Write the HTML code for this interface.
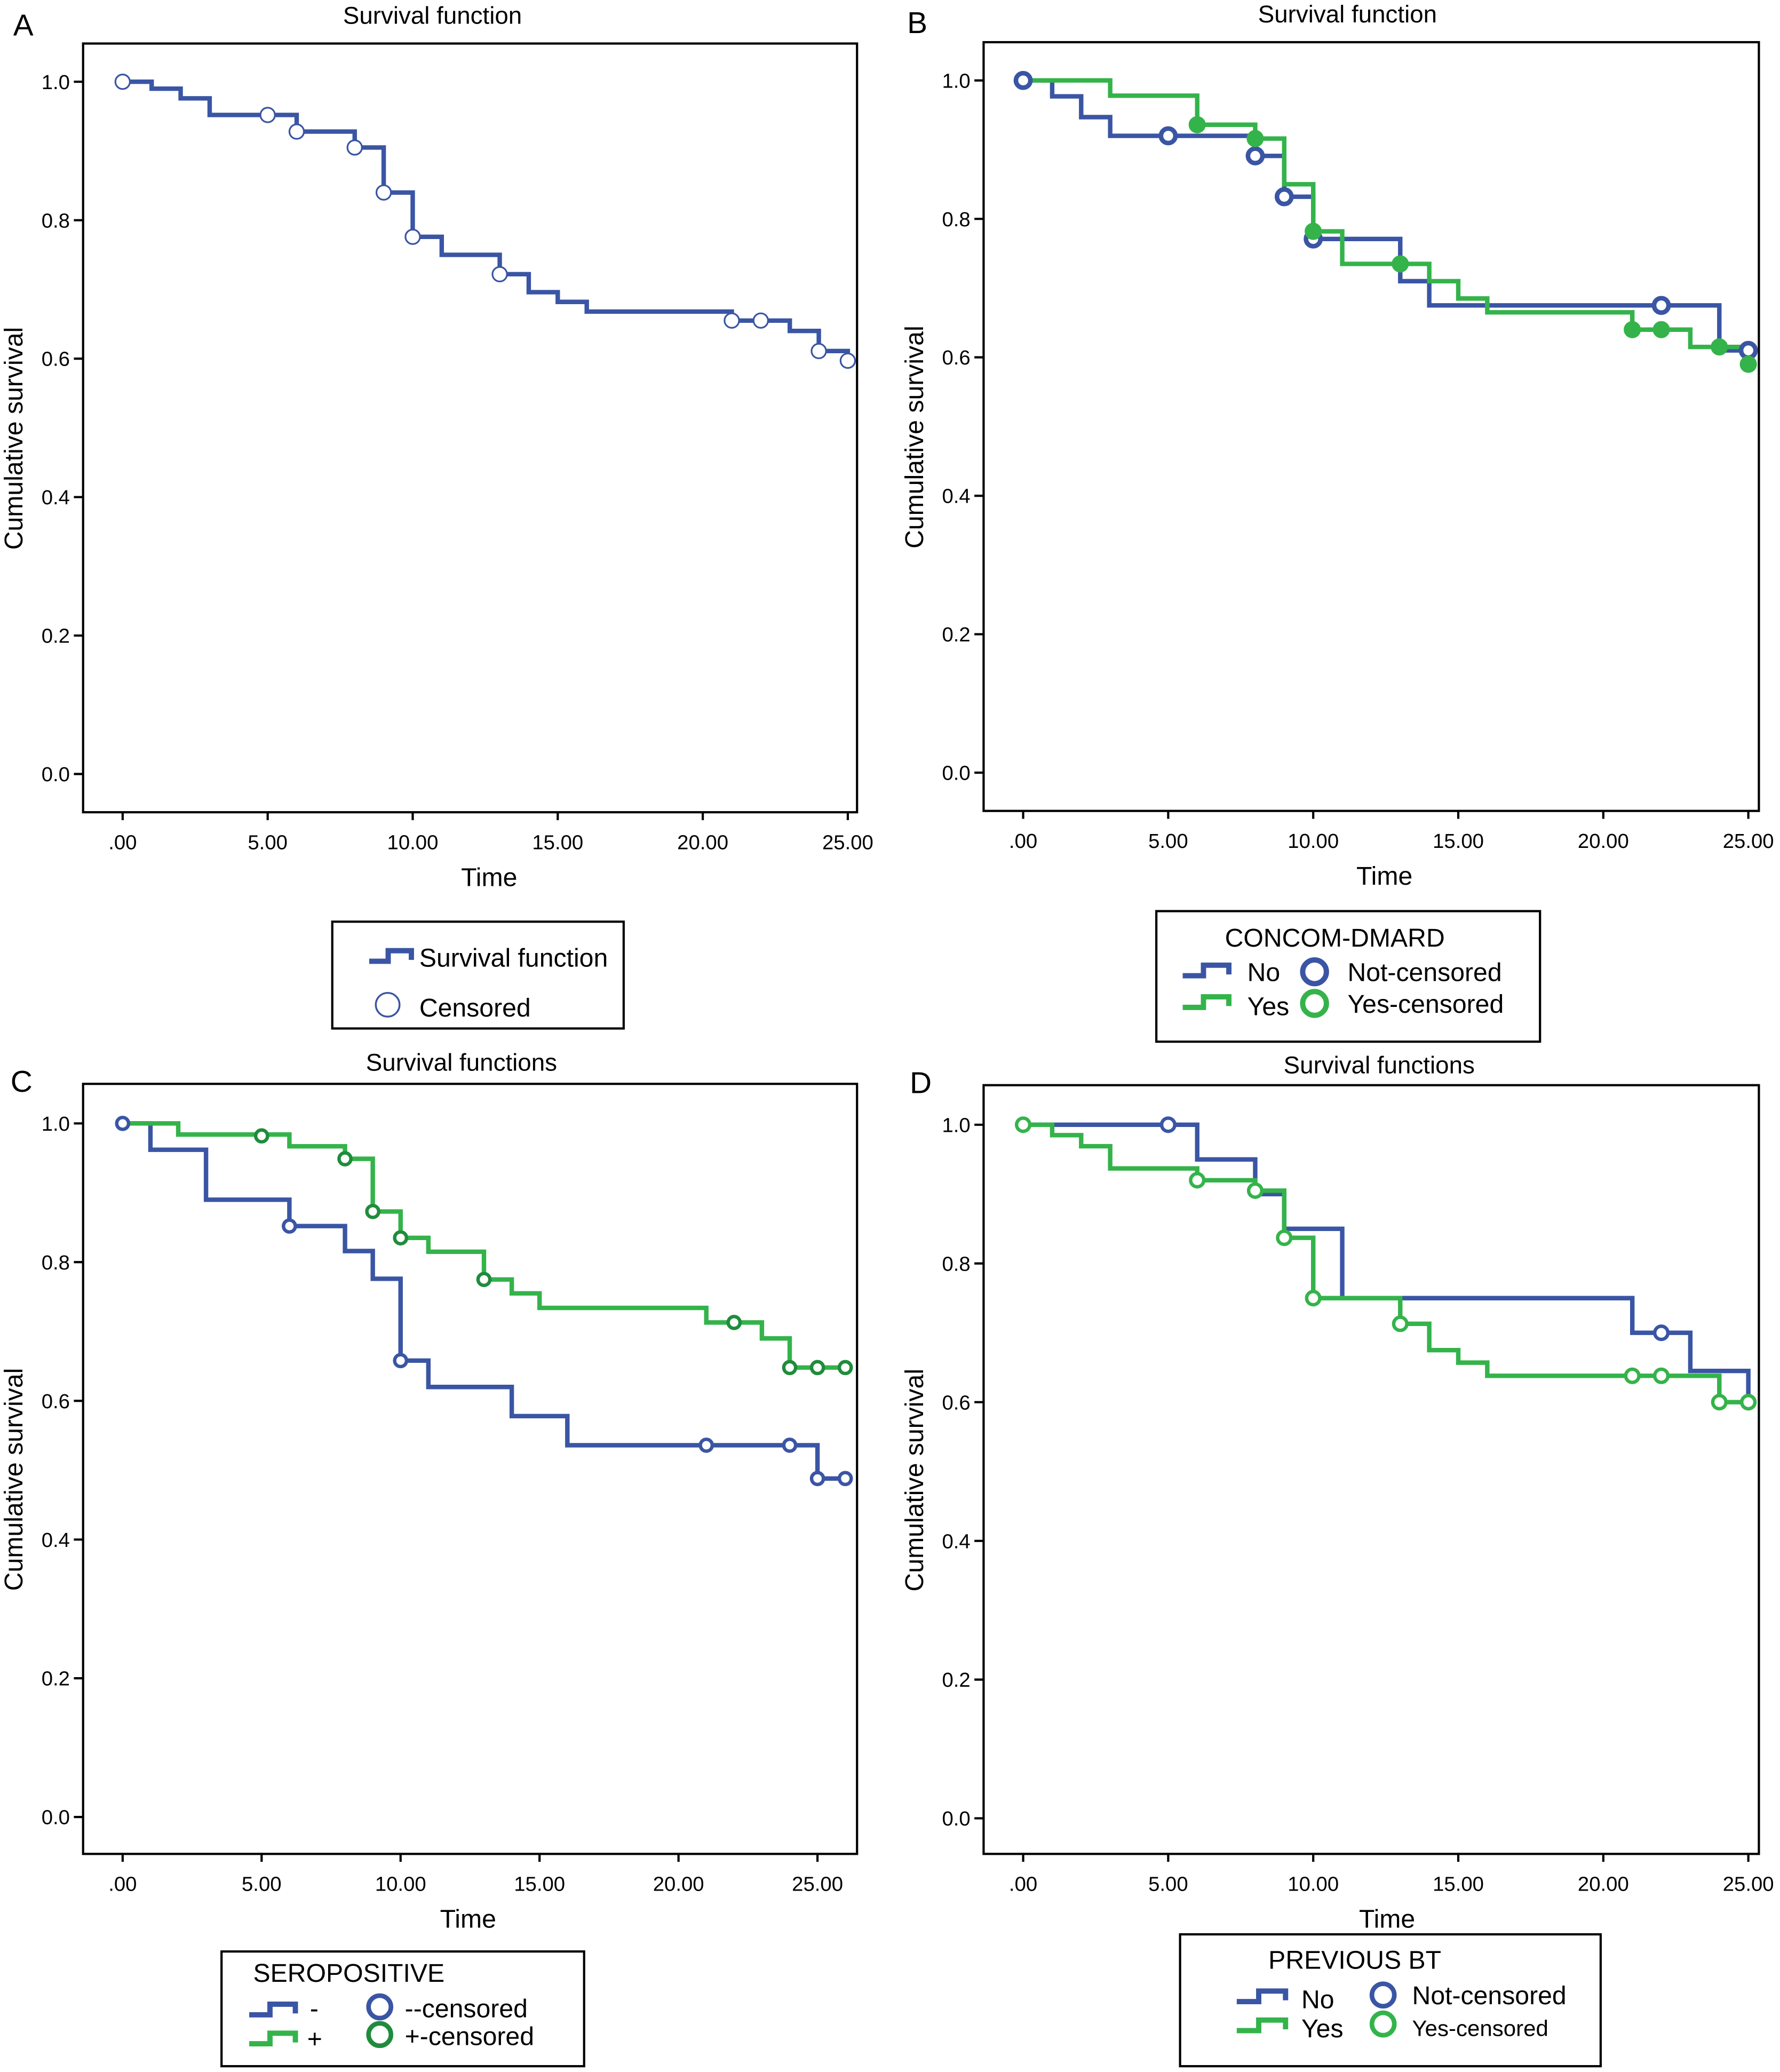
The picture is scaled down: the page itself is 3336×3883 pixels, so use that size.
<!DOCTYPE html>
<html><head><meta charset="utf-8"><style>
html,body{margin:0;padding:0;background:#fff}
svg{display:block}
text{font-family:"Liberation Sans",sans-serif;fill:#000}
</style></head><body>
<svg id="fig" xmlns="http://www.w3.org/2000/svg" width="3336" height="3883" viewBox="0 0 1350 1571.4">
<rect width="1350" height="1571.4" fill="#fff"/>
<g id="root"></g>
</svg>
<script>
// ---- Panel A data ----
const aTimes = [0,1,2,3,6,8,9,10,11,13,14,15,16,21,23,24,25];
const aSurv  = [1.0,0.99,0.976,0.952,0.928,0.905,0.84,0.776,0.75,0.722,0.696,0.682,0.668,0.655,0.64,0.611,0.597];
const aCensT = [0,5,6,8,9,10,13,21,22,24,25];
const aCensS = [1.0,0.952,0.928,0.905,0.84,0.776,0.722,0.655,0.655,0.611,0.597];
// ---- Panel B data ----
const bNoTimes = [0,1,2,3,8,9,10,13,14,24];
const bNoSurv  = [1.0,0.977,0.947,0.92,0.891,0.832,0.771,0.71,0.675,0.61];
const bNoCensT = [0,5,8,9,10,22,25];
const bNoCensS = [1.0,0.92,0.891,0.832,0.771,0.675,0.61];
const bYesTimes = [0,3,6,8,9,10,11,14,15,16,21,23,25];
const bYesSurv  = [1.0,0.978,0.936,0.916,0.85,0.782,0.735,0.71,0.685,0.665,0.64,0.615,0.59];
const bYesCensT = [6,8,10,13,21,22,24,25];
const bYesCensS = [0.936,0.916,0.782,0.735,0.64,0.64,0.615,0.59];
// ---- Panel C data ----
const cNegTimes = [0,1,3,6,8,9,10,11,14,16,25,26];
const cNegSurv  = [1.0,0.962,0.89,0.852,0.816,0.776,0.658,0.62,0.578,0.536,0.488,0.488];
const cNegCensT = [0,6,10,21,24,25,26];
const cNegCensS = [1.0,0.852,0.658,0.536,0.536,0.488,0.488];
const cPosTimes = [0,2,6,8,9,10,11,13,14,15,21,23,24,26];
const cPosSurv  = [1.0,0.984,0.967,0.949,0.873,0.835,0.815,0.775,0.755,0.734,0.713,0.69,0.648,0.648];
const cPosCensT = [5,8,9,10,13,22,24,25,26];
const cPosCensS = [0.982,0.949,0.873,0.835,0.775,0.713,0.648,0.648,0.648];
// ---- Panel D data ----
const dNoTimes = [0,6,8,9,11,21,23,25];
const dNoSurv  = [1.0,0.95,0.90,0.85,0.75,0.70,0.645,0.60];
const dNoCensT = [5,22,25];
const dNoCensS = [1.0,0.70,0.60];
const dYesTimes = [0,1,2,3,6,8,9,10,13,14,15,16,24,25];
const dYesSurv  = [1.0,0.985,0.969,0.937,0.92,0.905,0.837,0.75,0.713,0.675,0.657,0.638,0.60,0.60];
const dYesCensT = [0,6,8,9,10,13,21,22,24,25];
const dYesCensS = [1.0,0.92,0.905,0.837,0.75,0.713,0.638,0.638,0.60,0.60];
// ---- Axis ticks ----
const xTickVals = [0,5,10,15,20,25];
const xTickLabels = [".00","5.00","10.00","15.00","20.00","25.00"];
const yTickVals = [0,0.2,0.4,0.6,0.8,1.0];
const yTickLabels = ["0.0","0.2","0.4","0.6","0.8","1.0"];

const NS="http://www.w3.org/2000/svg";
const root=document.getElementById('root');
const BLUE="#3a55a4", GREEN="#34b34a", DKGREEN="#1f8c3c";
function el(tag,attrs,parent,txt){const e=document.createElementNS(NS,tag);for(const k in attrs)e.setAttribute(k,attrs[k]);if(txt!==undefined)e.textContent=txt;(parent||root).appendChild(e);return e;}

function makePanel(p){
  const g=el('g',{});
  
  
  const sx=t=>p.x0+t*(p.x25-p.x0)/25;
  const sy=v=>p.y0+(p.y1-p.y0)*v;
  p.sx=sx;p.sy=sy;p.g=g;
  const fr=el('rect',{x:p.fx1,y:p.fy1,width:p.fx2-p.fx1,height:p.fy2-p.fy1,fill:'none',stroke:'#000','stroke-width':1.7},g);
  
  
  yTickVals.forEach((v,i)=>{
    el('line',{x1:p.fx1-7,x2:p.fx1,y1:sy(v),y2:sy(v),stroke:'#000','stroke-width':1.7},g);
    const t=el('text',{x:p.fx1-10,y:sy(v)+5.5,'text-anchor':'end','font-size':15.5},g,yTickLabels[i]);
    
    
  });
  xTickVals.forEach((v,i)=>{
    el('line',{x1:sx(v),x2:sx(v),y1:p.fy2,y2:p.fy2+6,stroke:'#000','stroke-width':1.7},g);
    const t=el('text',{x:sx(v),y:p.fy2+28,'text-anchor':'middle','font-size':15.5},g,xTickLabels[i]);
    
    
  });
  const tt=el('text',{x:p.tx,y:p.ty,'text-anchor':'middle','font-size':18.5},g,p.title);
  
  
  const lt=el('text',{x:p.lx,y:p.ly,'font-size':23},g,p.id);
  
  
  const xt=el('text',{x:p.timeX,y:p.fy2+56,'text-anchor':'middle','font-size':19.5},g,'Time');
  
  
  const yc=(p.fy1+p.fy2)/2+8;
  const yt=el('text',{x:p.fx1-46,y:yc,'text-anchor':'middle','font-size':19.5,transform:'rotate(-90 '+(p.fx1-46)+' '+yc+')'},g,'Cumulative survival');
  
  
  return p;
}
function curve(p,times,surv,color,name){
  let d='M'+p.sx(times[0])+' '+p.sy(surv[0]);
  for(let i=1;i<times.length;i++){d+=' H'+p.sx(times[i])+' V'+p.sy(surv[i]);}
  const last=p.sx(Math.max(times[times.length-1],25));
  d+=' H'+last;
  const path=el('path',{d:d,fill:'none',stroke:color,'stroke-width':3.4},p.g);
  
  
}
function marks(p,ts,ss,style,name){
  ts.forEach((t,i)=>{
    const c=el('circle',{cx:p.sx(t),cy:p.sy(ss[i]),r:style.r,fill:style.fill,stroke:style.stroke,'stroke-width':style.sw},p.g);
    
    
  });
}

// Panel A
const A=makePanel({id:'A',fx1:63,fx2:650,fy1:33,fy2:616,x0:93,x25:643,y0:587,y1:62,title:'Survival function',tx:328,ty:18,lx:10,ly:27,timeX:371});
curve(A,aTimes,aSurv,BLUE,'survival-curve');
marks(A,aCensT,aCensS,{r:5.5,fill:'#fff',stroke:BLUE,sw:1.3},'censored-marker');
// Panel B
const B=makePanel({id:'B',fx1:746,fx2:1334,fy1:32,fy2:615,x0:776,x25:1326,y0:586,y1:61,title:'Survival function',tx:1022,ty:17,lx:688,ly:25,timeX:1050});
curve(B,bNoTimes,bNoSurv,BLUE,'curve-no');
curve(B,bYesTimes,bYesSurv,GREEN,'curve-yes');
marks(B,bNoCensT,bNoCensS,{r:5.5,fill:'#fff',stroke:BLUE,sw:3.5},'censored-no');
marks(B,bYesCensT,bYesCensS,{r:6,fill:GREEN,stroke:GREEN,sw:1},'censored-yes');
// Panel C
const C=makePanel({id:'C',fx1:63,fx2:650,fy1:822,fy2:1406,x0:93,x25:620,y0:1378,y1:852,title:'Survival functions',tx:350,ty:812,lx:8,ly:828,timeX:355});
curve(C,cNegTimes,cNegSurv,BLUE,'curve-negative');
curve(C,cPosTimes,cPosSurv,GREEN,'curve-positive');
marks(C,cNegCensT,cNegCensS,{r:4.5,fill:'#fff',stroke:BLUE,sw:2.6},'censored-negative');
marks(C,cPosCensT,cPosCensS,{r:4.5,fill:'#fff',stroke:DKGREEN,sw:2.6},'censored-positive');
// Panel D
const D=makePanel({id:'D',fx1:746,fx2:1334,fy1:823,fy2:1406,x0:776,x25:1326,y0:1379,y1:853,title:'Survival functions',tx:1046,ty:814,lx:690,ly:829,timeX:1052});
curve(D,dNoTimes,dNoSurv,BLUE,'curve-no');
curve(D,dYesTimes,dYesSurv,GREEN,'curve-yes');
marks(D,dNoCensT,dNoCensS,{r:5,fill:'#fff',stroke:BLUE,sw:2.6},'censored-no');
marks(D,dYesCensT,dYesCensS,{r:5,fill:'#fff',stroke:GREEN,sw:2.6},'censored-yes');

// Legends
function legendBox(x1,y1,x2,y2,name){const r=el('rect',{x:x1,y:y1,width:x2-x1,height:y2-y1,fill:'#fff',stroke:'#000','stroke-width':1.7});}
function stepIcon(x,y,w,color){const p=el('path',{d:'M'+x+' '+(y+4)+' H'+(x+w*0.45)+' V'+(y-4)+' H'+(x+w)+' V'+(y+3),fill:'none',stroke:color,'stroke-width':4});}
function ring(x,y,r,color,sw,fill){const c=el('circle',{cx:x,cy:y,r:r,fill:fill||'#fff',stroke:color,'stroke-width':sw});}
function txt(x,y,s,size,name){const t=el('text',{x:x,y:y,'font-size':size},root,s);}

legendBox(252,699,473,780,'legend-a');
stepIcon(280,725,32,BLUE);txt(318,733,'Survival function',19.5,'legend-entry');
ring(294,762,9,BLUE,1.4);txt(318,771,'Censored',19.5,'legend-entry');

legendBox(877,691,1168,790,'legend-b');
txt(929,718,'CONCOM-DMARD',19.5,'legend-title');
stepIcon(897,736,35,BLUE);txt(946,744,'No',19.5,'legend-entry');
ring(997,737,9,BLUE,4);txt(1022,744,'Not-censored',19.5,'legend-entry');
stepIcon(897,760,35,GREEN);txt(946,770,'Yes',19.5,'legend-entry');
ring(997,761,9,GREEN,4);txt(1022,768,'Yes-censored',19.5,'legend-entry');

legendBox(168,1480,443,1567,'legend-c');
txt(192,1503,'SEROPOSITIVE',19.5,'legend-title');
stepIcon(189,1524,35,BLUE);txt(235,1530,'-',19.5,'legend-entry');
ring(288,1522,8.5,BLUE,3.5);txt(307,1530,'--censored',19.5,'legend-entry');
stepIcon(189,1546,35,GREEN);txt(233,1553,'+',19.5,'legend-entry');
ring(288,1543,8.5,DKGREEN,3.5);txt(307,1551,'+-censored',19.5,'legend-entry');

legendBox(895,1467,1214,1567,'legend-d');
txt(962,1493,'PREVIOUS BT',19.5,'legend-title');
stepIcon(938,1514,37,BLUE);txt(987,1523,'No',19.5,'legend-entry');
ring(1049,1513,8.5,BLUE,3.5);txt(1071,1520,'Not-censored',19.5,'legend-entry');
stepIcon(938,1536,37,GREEN);txt(987,1545,'Yes',19.5,'legend-entry');
ring(1049,1535,8.5,GREEN,3.5);txt(1071,1544,'Yes-censored',17,'legend-entry');
</script>
</body></html>
